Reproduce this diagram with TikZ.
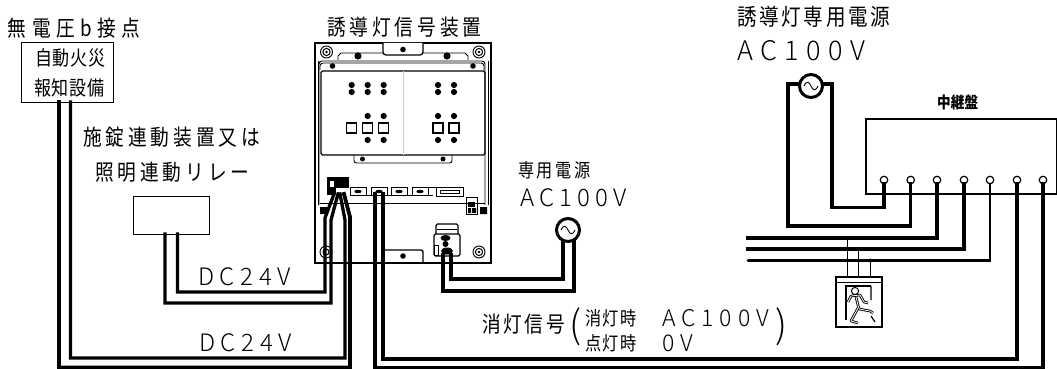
\documentclass[tikz,border=0pt]{standalone}
\usepackage{fontspec}
\setmainfont{Noto Sans CJK JP}[FakeStretch=0.85]
\newfontfamily\lat{Noto Sans CJK JP}[UprightFont=* Light]
\newcommand{\tx}[3]{\fontsize{#1pt}{#1pt}\selectfont\addfontfeature{LetterSpace=#2}#3}
\newcommand{\la}[3]{\lat\fontsize{#1pt}{#1pt}\selectfont\addfontfeature{LetterSpace=#2}#3}
\tikzset{
  wire/.style={line width=3.3pt,line cap=rect,line join=miter},
  wireb/.style={line width=3.8pt,line cap=rect,line join=miter},
  lbl/.style={anchor=west,inner sep=0pt,outer sep=0pt,text=black},
  bx/.style={draw=black,fill=white,line width=1pt,inner sep=0pt,outer sep=0pt,rectangle},
  ac/.style={circle,draw=black,fill=white,line width=3pt,minimum size=23pt,inner sep=0pt,outer sep=0pt},
  term/.style={circle,draw=black,fill=white,line width=1.2pt,minimum size=7.5pt,inner sep=0pt,outer sep=0pt},
  thinl/.style={line width=.9pt},
  med/.style={line width=1.3pt},
}
\newcommand{\sine}[2]{\draw[line width=.9pt] (#1-7,#2) .. controls (#1-4,#2-6) and (#1-2,#2-4) .. (#1,#2) .. controls (#1+2,#2+4) and (#1+4,#2+6) .. (#1+7,#2);}
\begin{document}
\begin{tikzpicture}[x=1pt,y=-1pt]
\useasboundingbox (0,0) rectangle (1057,369);
\fill[white] (0,0) rectangle (1057,369);

% ---------- guidance device -------------
\draw[line width=1.6pt] (315,43) rectangle (491,263);
\draw[thinl] (318,61) -- (318,205) (488,61) -- (488,205);
\draw[thinl,rounded corners=3pt] (319,205) -- (319,61) -- (485,61) -- (485,205);
\draw[thinl,rounded corners=3pt] (320,70) -- (320,63) -- (484,63) -- (484,70);
\draw[med,rounded corners=1.5pt] (321,71) rectangle (485,155);
\draw[line width=.3pt,black!20] (403,71) -- (403,155);
\draw[thinl] (338,60) -- (338,56) -- (341,53) -- (383,53) (423,53) -- (465,53) -- (468,56) -- (468,60);
\draw[med,fill=white,rounded corners=3pt] (383,43) -- (383,55) -- (423,55) -- (423,43);
\fill (403,49.5) circle (2.8) (358,56) circle (3.6) (447,56) circle (3.6) (332.5,66) circle (2.8) (473,66) circle (2.8);
\foreach \p in {(326.5,52),(479,52),(479,252)}{
  \draw[line width=.9pt] \p circle (6);
  \draw[line width=1pt] \p circle (3.6);
  \fill \p circle (1.3);
}
\draw[line width=.9pt] (326,252) circle (6);
\draw[line width=1pt] (326,252) circle (3);
% panel dots
\foreach \x in {351.7,367.7,383.7,438,454}{
  \fill (\x,85) circle (3.1) (\x,92) circle (3.1);
}
\foreach \x in {367.7,383.7,438,454}{
  \fill (\x,116) circle (3.1) (\x,140) circle (3.1);
}
\foreach \x in {351.3,367.7,383.7}{
  \draw[med] (\x-5,123) rectangle (\x+5,133);
}
\foreach \x in {438,454}{
  \draw[line width=1.8pt] (\x-5,123) rectangle (\x+5,133);
}
\draw[thinl,rounded corners=2.5pt] (354,155) -- (354,163) -- (452,163) -- (452,155);
\fill (362.5,159) circle (2.5) (443,159) circle (2.5);
% lower rail
\draw[thinl] (320,203) -- (485,203);
\draw[thinl] (350,195) -- (433,195);
\foreach \x in {350,371,391,412}{
  \draw[thinl] (\x,187) rectangle (\x+16,195);
  \fill (\x+8,191.5) ellipse (3.7 and 1.7);
}
\draw[thinl] (428,187) -- (463,187) -- (463,196) -- (436,196) -- (436,187);
\draw[thinl] (440,190) rectangle (459,193.5);
\fill (320,207) rectangle (327,214) (480,207) rectangle (487,214);
\draw[thinl] (466,197) rectangle (477,214);
\fill (468,202) rectangle (475,207);
\fill (468,208) rectangle (471,213) (472,208) rectangle (476,213);
% terminal block
\draw[med,rounded corners=1.5pt] (436,234) -- (436,224) -- (458,224) -- (458,234);
\draw[med,rounded corners=1.5pt] (434,234) rectangle (460,256);
\draw[thinl] (437,229) -- (457,229);
\draw[thinl] (434,245) rectangle (438,255);
\fill (445.5,238) ellipse (5 and 3) (445.5,244) circle (3) (447,251) ellipse (6 and 3.5);
% bottom tab
\draw[med,rounded corners=2pt] (383,263) -- (383,250) -- (423,250) -- (423,263);
\fill (403,256) circle (2.8);
% black connector
\fill (327,177) rectangle (349,188);
\fill (327,188) rectangle (336,195);
\fill[white] (330,181) rectangle (333.5,187);

% ---------- nodes -------------
\node[bx,minimum width=92pt,minimum height=59pt] (fire) at (67,72.5) {};
\node[bx,minimum width=76pt,minimum height=38pt] (relay) at (171.5,215.5) {};
\node[bx,line width=1.2pt,minimum width=191pt,minimum height=75pt,anchor=north west] (panel) at (866,119) {};
\node[bx,line width=1.5pt,minimum width=46pt,minimum height=50pt,anchor=north west] (exit) at (836,277) {};
\coordinate (fa) at (59,102);
\coordinate (fb) at (70.5,102);
\coordinate (ra) at (165,234);
\coordinate (rb) at (177.5,234);
\coordinate (ca) at (334,194);
\coordinate (cb) at (338,194);
\coordinate (cc) at (340,194);
\coordinate (cd) at (344,194);
\coordinate (sa) at (375,194);
\coordinate (sb) at (383,194);
\coordinate (ja) at (443,255);
\coordinate (jb) at (451,255);

% terminals
\foreach \i/\x in {1/884,2/910.7,3/937,4/964,5/990,6/1017,7/1043}{
  \node[term] (t\i) at (\x,180) {};
}

% ---------- wires -------------
\draw[wireb] (fa) -- (59,367.5) -- (350,367.5) -- (350,217) -- (cd);
\draw[wire] (fb) -- (70.5,358) -- (345,358) -- (345,220) -- (cc);
\draw[wire] (ra) -- (165,303) -- (331,303) -- (331,220) -- (cb);
\draw[wire] (rb) -- (177.5,292) -- (325,292) -- (325,218) -- (ca);
\draw[wire] (sa) -- (375,368) -- (1043,368) -- (t7.south);
\draw[wireb] (sb) -- (383,359) -- (1017,359) -- (t6.south);
\draw[wire] (ja) -- (443,291) -- (574,291) -- (574,240);
\draw[wire] (jb) -- (451,279) -- (563,279) -- (563,240);

\draw[wire] (800,84) -- (788,84) -- (788,226) -| (t2.south);
\draw[wire] (822,84) -- (832,84) -- (832,207.5) -| (t1.south);
\draw[wire] (748,238) -| (t3.south);
\draw[wireb] (748,249) -| (t4.south);
\draw[line width=2.6pt,line cap=round] (748,260.5) -| (t5.south);

% sources over wires
\node[ac] (acL) at (568,230) {};
\node[ac] (acR) at (811,86) {};
\sine{568}{230}
\sine{811}{86}

% ---------- exit light -------------
\foreach \x/\y in {847/238,858.7/249,870/260.5}{
  \fill (\x,\y) circle (2);
  \draw[thinl] (\x,\y) -- (\x,277);
}
\draw[line width=1pt] (836,282) -- (882,282);
\draw[line width=1.2pt] (846,320) -- (846,286) -- (871,286);
\draw[line width=1.2pt] (871,286) -- (871,300) (871,316) -- (875,322);
\draw[line width=1pt,fill=white] (855,291) circle (3.6);
\draw[line width=2.6pt,line join=round] (848,302) -- (851,296) -- (860,295) -- (864,302) -- (868,303);
\draw[white,line width=.8pt,line join=round] (848,302) -- (851,296) -- (860,295) -- (864,302) -- (868,303);
\draw[line width=2.6pt,line join=round] (856,297) -- (859,309) -- (870,311) -- (873,313);
\draw[white,line width=.8pt,line join=round] (856,297) -- (859,309) -- (870,311) -- (873,313);
\draw[line width=2.6pt,line join=round] (858,308) -- (851,321) -- (858,323);
\draw[white,line width=.8pt,line join=round] (858,308) -- (851,321) -- (858,323);

% ---------- labels -------------
\node[lbl] (l1) at (8,28) {\tx{22}{25}{無電圧b接点}};
\node[lbl] (l2) at (35,58) {\tx{20}{5}{自動火災}};
\node[lbl] (l3) at (34,88) {\tx{20}{5}{報知設備}};
\node[lbl] (l4) at (83,137) {\tx{22}{18}{施錠連動装置又は}};
\node[lbl] (l5) at (95,172) {\tx{22}{18}{照明連動リレー}};
\node[lbl] (l6) at (198,277) {\la{24}{24}{DC24V}};
\node[lbl] (l7) at (199,343) {\la{24}{24}{DC24V}};
\node[lbl] (l8) at (327,27) {\tx{22}{18}{誘導灯信号装置}};
\node[lbl] (l9) at (518,170) {\tx{19}{14}{専用電源}};
\node[lbl] (l10) at (520,198) {\la{24}{22}{AC100V}};
\node[lbl] (l11) at (737,17) {\tx{23}{12}{誘導灯専用電源}};
\node[lbl] (l12) at (737,51) {\la{27}{28}{AC100V}};
\node[lbl] (l13) at (937,102) {\bfseries\tx{16}{1}{中継盤}};
\node[lbl] (l14) at (482,324) {\tx{22}{12}{消灯信号}};
\node[lbl] (l15) at (585,318) {\tx{19}{8}{消灯時}};
\node[lbl] (l16) at (585,343) {\tx{19}{8}{点灯時}};
\node[lbl] (l17) at (662,318) {\la{23}{26}{AC100V}};
\node[lbl] (l18) at (662,343) {\la{23}{26}{0V}};
\node[lbl] (l19) at (569,327) {\la{38}{0}{(}};
\node[lbl] (l20) at (775,327) {\la{38}{0}{)}};
\end{tikzpicture}
\end{document}
